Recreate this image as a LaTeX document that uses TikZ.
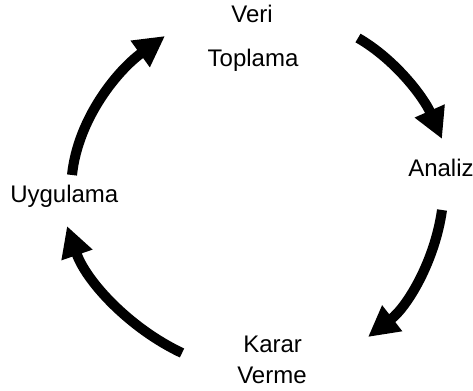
\documentclass[tikz,border=0pt]{standalone}
\usepackage{fontspec}
\setmainfont{Liberation Sans}
\usetikzlibrary{arrows.meta}
\begin{document}
\begin{tikzpicture}[x=0.75pt,y=-0.75pt,
  label/.style={inner sep=0pt,font=\fontsize{18}{21.6}\selectfont},
  cyclearrow/.style={line width=7.5pt,-{Triangle[length=23pt,width=23pt]}}]
\useasboundingbox (0,0) rectangle (473,391);

% stage labels
\node[label,anchor=base]      (veri)    at (252,23)  {Veri};
\node[label,anchor=base]      (toplama) at (253,67)  {Toplama};
\node[label,anchor=base west] (analiz)  at (408,177) {Analiz};
\node[label,anchor=base west] (karar)   at (243,352) {Karar};
\node[label,anchor=base west] (verme)   at (237,383) {Verme};
\node[label,anchor=base west] (uyg)     at (10,203)  {Uygulama};

% arrow end points
\coordinate (a1s) at (72,175);  \coordinate (a1e) at (165,36);
\coordinate (a2s) at (358,38);  \coordinate (a2e) at (442,139);
\coordinate (a3s) at (442,210); \coordinate (a3e) at (368,337);
\coordinate (a4s) at (182,353); \coordinate (a4e) at (67,226);

% curved arrows of the cycle
\draw[cyclearrow] (a1s) .. controls (78,118) and (118,70) .. (a1e);
\draw[cyclearrow] (a2s) .. controls (396,60) and (424,98) .. (a2e);
\draw[cyclearrow] (a3s) .. controls (435,260) and (408,306) .. (a3e);
\draw[cyclearrow] (a4s) .. controls (129,328) and (86,281) .. (a4e);
\end{tikzpicture}
\end{document}
